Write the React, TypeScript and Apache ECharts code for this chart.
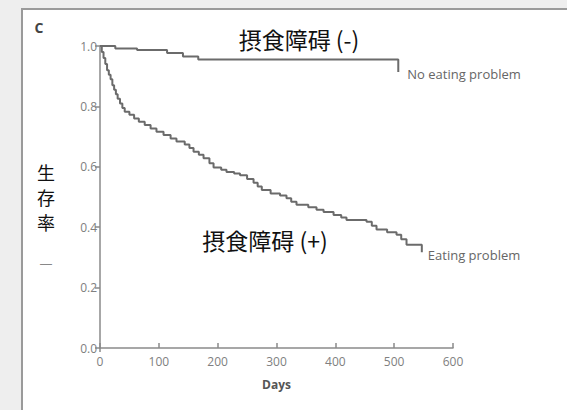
import React, { useEffect, useRef } from "react";
import * as echarts from "echarts";

const xTicks = [0, 100, 200, 300, 400, 500, 600];
const yTicks = [0, 0.2, 0.4, 0.6, 0.8, 1.0];

const noProblemDays = [0, 26, 63, 114, 141, 167, 507, 507];
const noProblemSurv = [1.0, 0.992, 0.987, 0.977, 0.965, 0.955, 0.955, 0.914];

const problemDays = [
  0, 3, 6, 9, 12, 15, 18, 21, 24, 27, 30, 34, 38, 42, 50, 58, 66, 76, 86, 96,
  108, 120, 130, 144, 152, 159, 168, 176, 186, 193, 206, 215, 228, 238, 250,
  261, 268, 275, 290, 306, 317, 325, 334, 354, 368, 380, 397, 410, 419, 453,
  462, 470, 488, 504, 512, 521, 547, 547,
];
const problemSurv = [
  1.0, 0.98, 0.96, 0.94, 0.92, 0.905, 0.89, 0.87, 0.855, 0.84, 0.825, 0.81,
  0.795, 0.782, 0.772, 0.76, 0.749, 0.738, 0.727, 0.716, 0.705, 0.694, 0.684,
  0.674, 0.662, 0.65, 0.64, 0.628, 0.612, 0.598, 0.59, 0.583, 0.578, 0.572,
  0.56, 0.547, 0.535, 0.523, 0.512, 0.505, 0.496, 0.484, 0.474, 0.466, 0.458,
  0.45, 0.44, 0.432, 0.424, 0.418, 0.405, 0.392, 0.383, 0.375, 0.36, 0.342,
  0.327, 0.317,
];

const seriesNames = ["No eating problem", "Eating problem"];
const groupLabels = ["摂食障碍 (-)", "摂食障碍 (+)"];
const yTitleChars = ["生", "存", "率"];

const LINE = "#6b6b6b";
const AXIS = "#8a8a8a";
const LABEL = "#808080";
const SANS = "'Open Sans', Lato, sans-serif";
const CJK = "'Noto Sans CJK JP', 'Noto Sans CJK SC', sans-serif";

export default function App() {
  const ref = useRef<HTMLDivElement>(null);
  useEffect(() => {
    if (!ref.current) return;
    const chart = echarts.init(ref.current, undefined, { renderer: "svg" });
    const zip = (xs: number[], ys: number[]) => xs.map((x, i) => [x, ys[i]]);
    chart.setOption({
      animation: false,
      backgroundColor: "#eeeeee",
      grid: { left: 100, right: 114, top: 46, bottom: 62 },
      xAxis: {
        type: "value",
        min: xTicks[0],
        max: xTicks[xTicks.length - 1],
        interval: 100,
        name: "Days",
        nameLocation: "middle",
        nameGap: 30,
        nameTextStyle: { fontFamily: SANS, fontSize: 12, fontWeight: "bold", color: "#555" },
        axisLine: { lineStyle: { color: AXIS, width: 1.5 } },
        axisTick: { inside: true, length: 5, lineStyle: { color: AXIS, width: 1.5 } },
        axisLabel: { fontFamily: SANS, fontSize: 12, color: LABEL, margin: 7 },
        splitLine: { show: false },
      },
      yAxis: {
        type: "value",
        min: yTicks[0],
        max: yTicks[yTicks.length - 1],
        interval: 0.2,
        axisLine: { show: true, lineStyle: { color: AXIS, width: 1.5 } },
        axisTick: { show: true, length: 5, lineStyle: { color: AXIS, width: 1.5 } },
        axisLabel: {
          fontFamily: SANS,
          fontSize: 12,
          color: LABEL,
          margin: 3,
          formatter: (v: number) => v.toFixed(1),
        },
        splitLine: { show: false },
      },
      graphic: [
        {
          type: "rect",
          z: -10,
          shape: { x: 22, y: 9, width: 560, height: 420 },
          style: { fill: "#ffffff", stroke: "#9a9a9a", lineWidth: 2 },
        },
        {
          type: "line",
          shape: { x1: 100, y1: 347, x2: 100, y2: 352 },
          style: { stroke: AXIS, lineWidth: 1.5 },
        },
        {
          type: "text",
          x: 39,
          y: 27,
          style: { text: "C", font: "bold 14px " + SANS, fill: "#444", align: "center", verticalAlign: "middle" },
        },
        {
          type: "text",
          x: 299,
          y: 39,
          style: { text: groupLabels[0], font: "23px " + CJK, fill: "#111", align: "center", verticalAlign: "middle" },
        },
        {
          type: "text",
          x: 265,
          y: 240,
          style: { text: groupLabels[1], font: "23px " + CJK, fill: "#111", align: "center", verticalAlign: "middle" },
        },
        ...yTitleChars.map((c, i) => ({
          type: "text",
          x: 46,
          y: 172 + i * 25,
          style: { text: c, font: "18px " + CJK, fill: "#111", align: "center", verticalAlign: "middle" },
        })),
        {
          type: "text",
          x: 46,
          y: 263,
          style: { text: "—", font: "13px " + SANS, fill: "#888", align: "center", verticalAlign: "middle" },
        },
      ],
      series: [
        {
          name: seriesNames[0],
          type: "line",
          step: "end",
          data: zip(noProblemDays, noProblemSurv),
          showSymbol: false,
          lineStyle: { color: LINE, width: 2 },
          endLabel: {
            show: true,
            formatter: seriesNames[0],
            fontFamily: SANS,
            fontSize: 13,
            color: "#666",
            distance: 9,
            offset: [0, 2],
          },
        },
        {
          name: seriesNames[1],
          type: "line",
          step: "end",
          data: zip(problemDays, problemSurv),
          showSymbol: false,
          lineStyle: { color: LINE, width: 2 },
          endLabel: {
            show: true,
            formatter: seriesNames[1],
            fontFamily: SANS,
            fontSize: 13,
            color: "#666",
            distance: 6,
            offset: [0, 3],
          },
        },
      ],
    });
    return () => chart.dispose();
  }, []);
  return (
    <div
      ref={ref}
      style={{ position: "fixed", left: 0, top: 0, width: 567, height: 410 }}
    />
  );
}
